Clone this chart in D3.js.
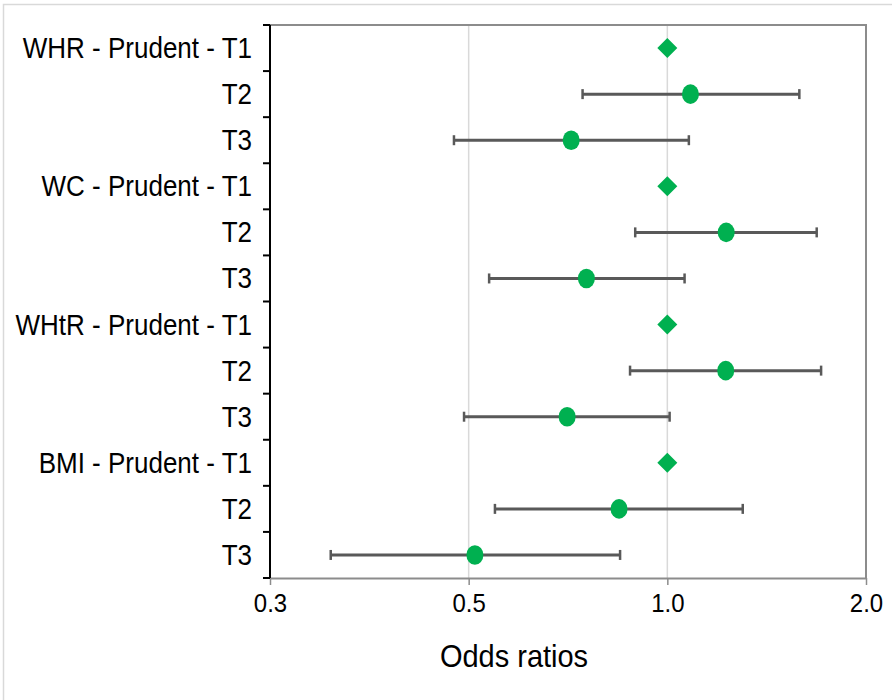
<!DOCTYPE html>
<html>
<head>
<meta charset="utf-8">
<script src="https://cdn.jsdelivr.net/npm/d3@7"></script>
<style>
  html, body { margin: 0; padding: 0; background: #ffffff; }
  svg { display: block; }
  text { font-family: "Liberation Sans", Arial, sans-serif; fill: #000000; }
</style>
</head>
<body>
<svg id="chart" width="892" height="700"></svg>
<script>
// Row labels, top to bottom
const rowLabels = [
  "WHR - Prudent - T1", "T2", "T3",
  "WC - Prudent - T1", "T2", "T3",
  "WHtR - Prudent - T1", "T2", "T3",
  "BMI - Prudent - T1", "T2", "T3"
];
// Odds ratio estimates and 95% confidence limits (T1 is the reference tertile)
const oddsRatio = [1.0, 1.084, 0.715, 1.0, 1.228, 0.754, 1.0, 1.226, 0.705, 1.0, 0.845, 0.511];
const lowerCI   = [null, 0.744, 0.475, null, 0.894, 0.537, null, 0.878, 0.492, null, 0.548, 0.309];
const upperCI   = [null, 1.585, 1.078, null, 1.684, 1.062, null, 1.710, 1.008, null, 1.301, 0.848];
const isReference = [true, false, false, true, false, false, true, false, false, true, false, false];

// X axis ticks
const tickValues = [0.25, 0.5, 1.0, 2.0];
const tickLabels = ["0.3", "0.5", "1.0", "2.0"];
const axisTitle = "Odds ratios";

const svg = d3.select("#chart");
const W = 892, H = 700;
const plot = { left: 270, right: 866, top: 25, bottom: 578 };
const green = "#00b050";
const stretchY = 1.1; // slightly tall lettering

svg.append("rect").attr("x", 0).attr("y", 0).attr("width", W).attr("height", H).attr("fill", "#ffffff");
// outer chart border
svg.append("rect")
  .attr("x", 3.5).attr("y", 4.5).attr("width", W + 10).attr("height", H + 10)
  .attr("fill", "none").attr("stroke", "#d9d9d9").attr("stroke-width", 1.5);

const x = d3.scaleLog().base(2).domain([0.25, 2]).range([plot.left, plot.right]);
const y = d3.scaleBand().domain(d3.range(rowLabels.length)).range([plot.top, plot.bottom]).padding(0);

// vertical gridlines
svg.append("g").selectAll("line")
  .data(tickValues.filter(v => v > 0.25 && v < 2))
  .join("line")
  .attr("x1", d => x(d)).attr("x2", d => x(d))
  .attr("y1", plot.top).attr("y2", plot.bottom)
  .attr("stroke", "#d9d9d9").attr("stroke-width", 1.5);

// top and right frame
svg.append("path")
  .attr("d", `M${plot.left},${plot.top}H${plot.right}V${plot.bottom}`)
  .attr("fill", "none").attr("stroke", "#8c8c8c").attr("stroke-width", 2);

// bottom axis
const xAxis = d3.axisBottom(x)
  .tickValues(tickValues)
  .tickFormat((d, i) => tickLabels[i])
  .tickSize(7).tickSizeOuter(0).tickPadding(8);
const gx = svg.append("g").attr("transform", `translate(0,${plot.bottom})`).call(xAxis);
gx.select(".domain").attr("stroke", "#8c8c8c").attr("stroke-width", 2);
gx.selectAll(".tick line").attr("stroke", "#8c8c8c").attr("stroke-width", 1.5);
gx.selectAll(".tick text")
  .style("font-family", '"Liberation Sans", Arial, sans-serif')
  .style("font-size", "24px").attr("fill", "#000")
  .attr("y", 0).attr("dy", null)
  .attr("transform", `translate(0,34) scale(1,${stretchY})`);

// left axis: ticks at row boundaries
const boundaries = d3.range(rowLabels.length + 1).map(i => plot.top + i * y.step());
const gy = svg.append("g");
gy.append("line")
  .attr("x1", plot.left).attr("x2", plot.left)
  .attr("y1", plot.top).attr("y2", plot.bottom)
  .attr("stroke", "#000").attr("stroke-width", 2);
gy.selectAll("line.tk").data(boundaries).join("line").attr("class", "tk")
  .attr("x1", plot.left - 7).attr("x2", plot.left)
  .attr("y1", d => d).attr("y2", d => d)
  .attr("stroke", "#000").attr("stroke-width", 2);
gy.selectAll("text").data(rowLabels).join("text")
  .attr("transform", (d, i) => `translate(252,${y(i) + y.bandwidth() / 2 + 10}) scale(1,${stretchY})`)
  .attr("text-anchor", "end")
  .style("font-size", "26px")
  .text(d => d);

// confidence intervals
const rows = rowLabels.map((label, i) => ({
  i, label, or: oddsRatio[i], lo: lowerCI[i], hi: upperCI[i], ref: isReference[i]
}));
const ci = svg.append("g").selectAll("g").data(rows.filter(d => !d.ref)).join("g");
const cy = d => y(d.i) + y.bandwidth() / 2;
ci.append("line")
  .attr("x1", d => x(d.lo)).attr("x2", d => x(d.hi))
  .attr("y1", cy).attr("y2", cy)
  .attr("stroke", "#595959").attr("stroke-width", 3);
["lo", "hi"].forEach(k => {
  ci.append("line")
    .attr("x1", d => x(d[k])).attr("x2", d => x(d[k]))
    .attr("y1", d => cy(d) - 5).attr("y2", d => cy(d) + 5)
    .attr("stroke", "#595959").attr("stroke-width", 2.5);
});

// estimates: circles, reference rows as diamonds
svg.append("g").selectAll("ellipse").data(rows.filter(d => !d.ref)).join("ellipse")
  .attr("cx", d => x(d.or)).attr("cy", cy)
  .attr("rx", 8.5).attr("ry", 9.8)
  .attr("fill", green);
svg.append("g").selectAll("path").data(rows.filter(d => d.ref)).join("path")
  .attr("transform", d => `translate(${x(d.or)},${cy(d)})`)
  .attr("d", "M0,-10L10,0L0,10L-10,0Z")
  .attr("fill", green);

// axis title
svg.append("text")
  .attr("transform", `translate(${(plot.left + plot.right) / 2 - 54},667) scale(1,${stretchY})`)
  .attr("text-anchor", "middle")
  .style("font-size", "29px")
  .text(axisTitle);
</script>
</body>
</html>
